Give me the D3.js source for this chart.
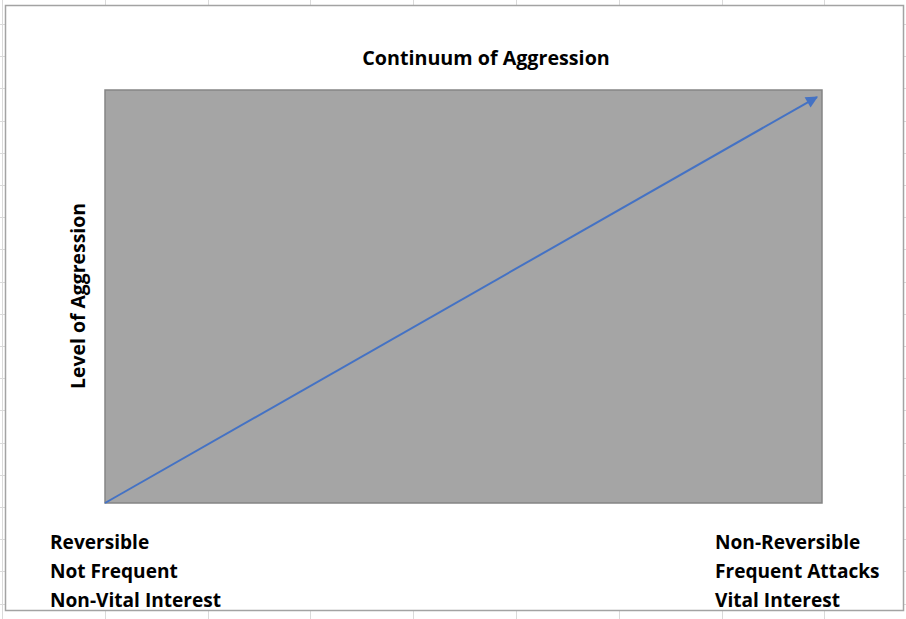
<!DOCTYPE html>
<html>
<head>
<meta charset="utf-8">
<script src="https://cdn.jsdelivr.net/npm/d3@7"></script>
<style>
  html, body { margin: 0; padding: 0; background: #fff; }
  text { font-family: "Open Sans", Lato, sans-serif; font-weight: bold; fill: #000; }
</style>
</head>
<body>
<div id="chart"></div>
<script>

const canvas = {
    w: 906,
    h: 619
};

// chart data
const chartTitle = "Continuum of Aggression";
const yTitle = "Level of Aggression";
const lowLabels = ["Reversible", "Not Frequent", "Non-Vital Interest"];
const highLabels = ["Non-Reversible", "Frequent Attacks", "Vital Interest"];
const arrowX = [0, 99.3];
const arrowY = [0, 98.3];

const plot = { left: 105, right: 822, top: 90, bottom: 503 };

const x = d3.scaleLinear().domain([0, 100]).range([plot.left, plot.right]);
const y = d3.scaleLinear().domain([0, 100]).range([plot.bottom, plot.top]);

const svg = d3
    .select("#chart")
    .append("svg")
    .attr("width", canvas.w)
    .attr("height", canvas.h)
    .attr("viewBox", `0 0 ${canvas.w} ${canvas.h}`);

// spreadsheet cells behind the chart
const sheet = svg.append("g").attr("stroke", "#dadada").attr("stroke-width", 1);
sheet.selectAll("line.col")
    .data(d3.range(0, 9))
    .join("line")
    .attr("class", "col")
    .attr("x1", d => Math.round(2 + d * 102.8) + 0.5)
    .attr("x2", d => Math.round(2 + d * 102.8) + 0.5)
    .attr("y1", 0)
    .attr("y2", canvas.h);
sheet.selectAll("line.row")
    .data(d3.range(0, 20))
    .join("line")
    .attr("class", "row")
    .attr("x1", 0)
    .attr("x2", canvas.w)
    .attr("y1", d => Math.round(24 + d * 32.2) + 0.5)
    .attr("y2", d => Math.round(24 + d * 32.2) + 0.5);

// chart area
svg.append("rect")
    .attr("x", 5.5)
    .attr("y", 5.5)
    .attr("width", 898)
    .attr("height", 605)
    .attr("fill", "#fff")
    .attr("stroke", "#a3a3a3")
    .attr("stroke-width", 1.5);

// plot area
svg.append("rect")
    .attr("x", x(0))
    .attr("y", y(100))
    .attr("width", x(100) - x(0))
    .attr("height", y(0) - y(100))
    .attr("fill", "#a5a5a5")
    .attr("stroke", "#858585")
    .attr("stroke-width", 1.5);

svg.append("defs")
    .append("marker")
    .attr("id", "head")
    .attr("viewBox", "0 0 10 10")
    .attr("refX", 9)
    .attr("refY", 5)
    .attr("markerUnits", "userSpaceOnUse")
    .attr("markerWidth", 14)
    .attr("markerHeight", 12)
    .attr("orient", "auto")
    .append("path")
    .attr("d", "M0,0 L10,5 L0,10 Z")
    .attr("fill", "#4472c4");

const line = d3.line()
    .x(d => x(d[0]))
    .y(d => y(d[1]));

svg.append("path")
    .datum(d3.zip(arrowX, arrowY))
    .attr("d", line)
    .attr("fill", "none")
    .attr("stroke", "#4472c4")
    .attr("stroke-width", 2)
    .attr("marker-end", "url(#head)");

// titles
svg.append("text")
    .attr("x", 486)
    .attr("y", 65)
    .attr("text-anchor", "middle")
    .style("font-size", "19.7px")
    .text(chartTitle);

svg.append("text")
    .attr("transform", "translate(85,296) rotate(-90)")
    .attr("text-anchor", "middle")
    .style("font-size", "19.4px")
    .text(yTitle);

svg.selectAll("text.low")
    .data(lowLabels)
    .join("text")
    .attr("class", "low")
    .attr("x", 50)
    .attr("y", (d, i) => 549 + i * 29)
    .style("font-size", "19.1px")
    .text(d => d);

svg.selectAll("text.high")
    .data(highLabels)
    .join("text")
    .attr("class", "high")
    .attr("x", 715)
    .attr("y", (d, i) => 549 + i * 29)
    .style("font-size", "19.1px")
    .text(d => d);

</script>
</body>
</html>
